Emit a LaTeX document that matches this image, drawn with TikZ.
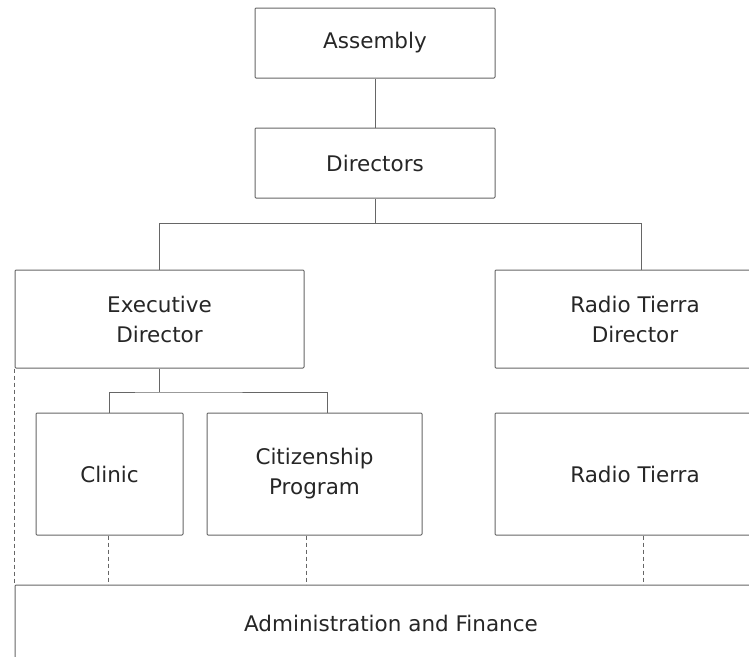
\documentclass[tikz,border=0pt]{standalone}
\usepackage{fontspec}
\setmainfont{DejaVu Sans}
\begin{document}
\begin{tikzpicture}[x=1pt,y=-1pt,
  box/.style={draw=black!60,line width=1pt,rounded corners=1pt,align=center,inner sep=0pt,text=black!85,font=\fontsize{21.5}{30}\selectfont},
  link/.style={draw=black!60,line width=1pt},
  dlink/.style={link,dash pattern=on 4pt off 3pt}]
\useasboundingbox(0,0)rectangle(749,656);
\clip(0,0)rectangle(749,656);
\pgfmathsetmacro{\bary}{223.5}
\pgfmathsetmacro{\drop}{23.5}
% top of the chart
\node[box,minimum width=240pt,minimum height=70pt](asm)at(375,43){Assembly};
\node[box,minimum width=240pt,minimum height=70pt](dir)at(375,163){Directors};
% second level
\node[box,minimum width=289pt,minimum height=98pt](exec)at(159.5,319){Executive\\Director};
\node[box,minimum width=280pt,minimum height=98pt](rtd)at(635,319){Radio Tierra\\Director};
% third level
\node[box,minimum width=147pt,minimum height=122pt](clinic)at(109.5,474){Clinic};
\node[box,minimum width=215pt,minimum height=122pt](cit)at(314.5,474){Citizenship\\Program};
\node[box,minimum width=280pt,minimum height=122pt](rt)at(635,474){Radio Tierra};
\node[box,minimum width=752pt,minimum height=76pt](adm)at(391,623){Administration and Finance};
% connectors
\draw[link](asm)--(dir);
\draw[link](dir.south)--(375,\bary)coordinate(bar);
\draw[link](exec.north)|-(bar)-|([xshift=6pt]rtd.north);
\draw[link](exec.south)--++(0,\drop)coordinate(sub);
\draw[link](clinic.north)|-(sub)-|([xshift=12.5pt]cit.north);
\draw[dlink]([xshift=-1.5pt]clinic.south)--([xshift=-1.5pt]clinic.south|-adm.north);
\draw[dlink]([xshift=-8.5pt]cit.south)--([xshift=-8.5pt]cit.south|-adm.north);
\draw[dlink]([xshift=8pt]rt.south)--([xshift=8pt]rt.south|-adm.north);
\draw[dlink](exec.south west)--(adm.north west);
\end{tikzpicture}
\end{document}
